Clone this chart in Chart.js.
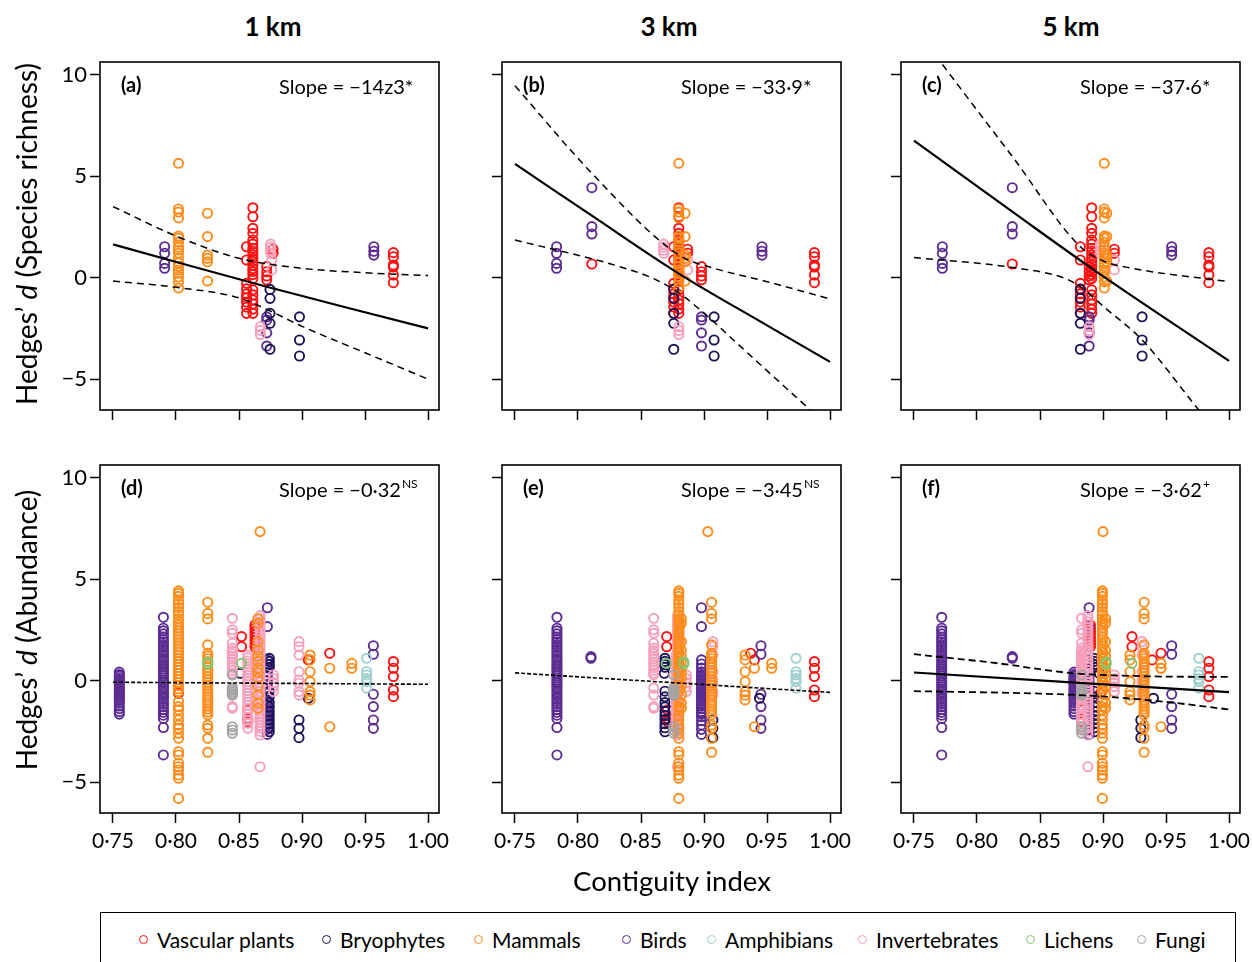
<!DOCTYPE html>
<html lang="en">
<head>
<meta charset="UTF-8">
<title>Hedges' d against contiguity index</title>
<script src="https://cdn.jsdelivr.net/npm/chart.js"></script>
<style>
    body { margin: 0; background: #fff; font-family: Lato, 'Open Sans', sans-serif; overflow: hidden; }
    #figure { position: relative; width: 1252px; height: 962px; overflow: hidden; background: #fff; }
    #figure canvas { position: absolute; }
    .col-title { position: absolute; top: 10px; width: 200px; margin-left: -100px; text-align: center;
                 font-weight: 700; font-size: 26px; color: #000; }
    .y-title { position: absolute; white-space: nowrap; font-size: 28px; color: #000;
               transform: translate(-50%, -50%) rotate(-90deg); }
    .x-title { position: absolute; left: 672px; top: 880px; transform: translate(-50%, -50%);
               font-size: 27.5px; color: #000; white-space: nowrap; }
    #legend { position: absolute; left: 100px; top: 912px; width: 1136px; height: 70px;
              border: 1.5px solid #000; box-sizing: border-box; }
    .leg-item { position: absolute; top: 14px; height: 24px; display: flex; align-items: center;
                font-size: 21px; color: #000; white-space: nowrap; }
    .leg-dot { width: 7px; height: 7px; border: 1.8px solid; border-radius: 50%; margin-right: 9px; }
</style>
</head>
<body>
<div id="figure"></div>
<script>
// ---- data ----
const taxa = ['Vascular plants', 'Bryophytes', 'Mammals', 'Birds', 'Amphibians', 'Invertebrates', 'Lichens', 'Fungi'];
const taxonColours = ['#ff1010', '#1b1458', '#ff8c1a', '#5c2d91', '#9fcfcf', '#f6a0bd', '#82c76e', '#a4a4a4'];
const distances = ['1 km', '3 km', '5 km'];
const xTicks = [0.75, 0.80, 0.85, 0.90, 0.95, 1.00];
const yTicks = [-5, 0, 5, 10];
const panelLabels = ['(a)', '(b)', '(c)', '(d)', '(e)', '(f)'];
const slopeTexts = ['Slope = \u221214z3*', 'Slope = \u221233\u00b79*', 'Slope = \u221237\u00b76*',
                    'Slope = \u22120\u00b732', 'Slope = \u22123\u00b745', 'Slope = \u22123\u00b762'];
const slopeMarks = ['', '', '', 'NS', 'NS', '+'];

// species richness: one entry per study, contiguity index at 1, 3 and 5 km (null = absent)
const richTaxon = [3, 3, 0, 2, 2, 0, 0, 0, 0, 5, 5, 5, 1, 3, 1, 3, 0];
const richX = [
    [0.791, 0.783, 0.7725], [null, 0.811, 0.828], [null, 0.811, 0.828], [0.802, 0.880, 0.901],
    [0.825, 0.885, 0.903], [0.861, 0.880, 0.891], [0.856, 0.876, 0.882], [0.877, 0.887, 0.909],
    [0.872, 0.898, 0.889], [0.875, 0.868, 0.898], [0.876, 0.887, 0.909], [0.867, 0.880, 0.889],
    [0.8746, 0.876, 0.882], [0.872, 0.898, 0.889], [0.898, 0.908, 0.931], [0.957, 0.946, 0.9545],
    [0.9725, 0.9876, 0.984]
];
const richY = [
    [1.52, 1.2, 0.7, 0.46],
    [4.43, 2.51, 2.15],
    [0.67],
    [5.63, 3.38, 3.23, 2.94, 2.05, 1.95, 1.75, 1.5, 1.36, 1.21, 0.97, 0.72, 0.55, 0.37, 0.23, 0.03, -0.21, -0.51],
    [3.17, 2.02, 1.11, 0.95, 0.78, -0.17],
    [3.44, 3.0, 2.43, 2.18, 1.85, 1.65, 1.45, 1.3, 1.12, 0.95, 0.8, 0.62, 0.45, 0.3, 0.15, -0.05, -0.6, -0.85, -1.1, -1.3, -1.55, -1.76],
    [1.52, 0.87, -0.28, -0.55, -0.8, -1.0, -1.2, -1.45, -1.76],
    [1.4, 1.2],
    [0.54, 0.29, 0.08, -0.11],
    [1.65, 1.5, 1.35, 1.2],
    [0.87, 0.38],
    [-2.42, -2.6, -2.8],
    [-0.58, -1.02, -1.76, -2.25, -3.53],
    [-1.93, -2.09, -2.72, -3.37],
    [-1.93, -3.07, -3.86],
    [1.52, 1.3, 1.11],
    [1.23, 1.03, 0.62, 0.52, 0.13, -0.25]
];

// abundance: one entry per study, contiguity index at 1, 3 and 5 km (null = absent)
const abunTaxon = [3, 3, 2, 0, 2, 6, 6, 5, 7, 1, 0, 0, 5, 2, 0, 5, 2, 3, 1, 5, 5, 1, 2, 0, 1, 0, 2, 2, 4, 3, 0, 3];
const abunX = [
    [0.755, 0.898, 0.877], [0.790, 0.7833, 0.772], [0.802, 0.880, 0.8995], [0.802, 0.878, 0.898],
    [0.8252, 0.906, 0.9326], [0.8252, 0.884, 0.9025], [0.852, 0.870, 0.923], [0.8447, 0.8601, 0.883],
    [0.8447, 0.876, 0.883], [0.851, 0.8685, 0.897], [0.852, 0.8704, 0.923], [0.857, 0.871, 0.883],
    [0.857, 0.878, 0.883], [0.865, 0.882, 0.902], [0.8627, 0.880, 0.890], [0.8667, 0.879, 0.888],
    [0.8667, 0.903, 0.900], [0.8725, 0.898, 0.889], [0.874, 0.869, 0.893], [0.8773, 0.886, 0.909],
    [0.8976, 0.907, 0.931], [0.8976, 0.907, 0.930], [0.9064, 0.9326, 0.9214], [0.905, 0.940, 0.939],
    [0.905, 0.944, 0.940], [0.922, 0.937, 0.946], [0.922, 0.940, 0.946], [0.9395, 0.9537, 0.946],
    [0.9513, 0.973, 0.976], [0.9566, 0.9452, 0.9545], [0.9725, 0.9876, 0.984], [null, 0.8103, 0.828]
];
const abunY = [
    [0.42, 0.3, 0.22, 0.12, 0.05, -0.03, -0.1, -0.18, -0.27, -0.35, -0.44, -0.52, -0.6, -0.7, -0.79, -0.88, -0.98, -1.1, -1.25, -1.38, -1.52, -1.65],
    [3.12, 2.58, 2.45, 2.3, 2.15, 2.02, 1.9, 1.78, 1.65, 1.52, 1.4, 1.28, 1.15, 1.03, 0.92, 0.8, 0.68, 0.57, 0.46, 0.35, 0.24, 0.13, 0.02, -0.09, -0.2, -0.31, -0.43, -0.55, -0.67, -0.79, -0.91, -1.03, -1.16, -1.29, -1.42, -1.56, -1.7, -1.86, -2.31, -3.66],
    [4.42, 4.3, 4.15, 3.95, 3.8, 3.6, 3.4, 3.25, 3.05, 2.9, 2.75, 2.6, 2.45, 2.3, 2.15, 2.0, 1.85, 1.7, 1.55, 1.4, 1.25, 1.1, 0.95, 0.8, 0.65, 0.5, 0.35, 0.2, 0.05, -0.1, -0.25, -0.4, -0.54, -1.03, -1.28, -1.44, -1.69, -1.94, -2.19, -2.35, -2.59, -2.84, -3.5, -3.66, -4.07, -4.24, -4.4, -4.65, -4.81, -5.8],
    [-0.62],
    [3.86, 3.31, 3.04, 1.76, 1.35, 1.22, 1.08, 0.93, 0.78, 0.64, 0.5, 0.36, 0.2, 0.06, -0.08, -0.22, -0.37, -0.52, -0.66, -0.8, -0.95, -1.1, -1.25, -1.4, -1.55, -1.69, -2.19, -2.35, -2.84, -3.53],
    [0.92, 0.82],
    [0.85],
    [3.07, 2.5, 2.33, 1.84, 1.6, 1.47, 1.33, 1.2, 1.06, 0.92, 0.78, 0.64, 0.5, 0.36, 0.28, -0.37, -0.71, -1.28, -1.36],
    [0.28, -0.37, -0.46, -0.55, -0.65, -0.71, -2.27, -2.43, -2.59],
    [0.36],
    [2.17, 1.67],
    [-1.44, -1.85, -2.02],
    [1.26, 1.12, 0.97, 0.83, 0.68, 0.53, 0.39, 0.24, 0.1, -0.05, -0.2, -0.34, -0.49, -0.63, -0.78, -0.93, -1.07, -1.22, -1.37, -1.51, -1.66, -1.81, -1.96, -2.1, -2.35],
    [3.05, 2.82, 1.92, 1.5, 1.2, 0.95, 0.62, 0.4, 0.12, -0.28, -0.7, -1.1, -1.36],
    [2.74, 2.58, 2.42, 2.27, 2.12, 1.97, 1.82, 1.67],
    [3.2, 3.05, 2.9, 2.76, 2.6, 2.46, 2.3, 2.16, 2.0, 1.86, 1.7, 1.56, 1.4, 1.26, 1.1, 0.96, 0.8, 0.66, 0.5, 0.36, 0.2, 0.06, -0.1, -0.24, -0.4, -0.54, -0.7, -0.84, -1.0, -1.14, -1.3, -1.44, -1.6, -1.74, -1.9, -2.04, -2.2, -2.34, -2.5, -2.68, -4.24],
    [7.34],
    [3.59, 2.66, 1.02, 0.82, 0.62, 0.42, 0.22, 0.02, -0.18, -0.38, -0.58, -0.78, -0.98, -1.18, -1.38, -1.58, -1.78, -1.98, -2.18, -2.4, -2.65],
    [1.1, 0.95, 0.8, 0.66, -0.52, -0.8, -1.08, -1.3, -1.52, -1.72, -1.92, -2.12, -2.32, -2.52],
    [0.28, 0.1, -0.1, -0.3, -0.54],
    [1.92, 1.67, 1.26, 0.44, 0.03, -0.13, -0.54, -0.71],
    [-1.94, -2.35, -2.81],
    [1.26, 1.02, 0.44, -0.05, -0.54, -0.71, -0.95],
    [1.02],
    [-0.87],
    [1.35],
    [0.61, -2.27],
    [0.85, 0.61],
    [1.1, 0.44, 0.28, 0.1, -0.05, -0.37],
    [1.72, 1.3, -0.67, -1.28, -1.94, -2.35],
    [0.94, 0.61, 0.2, -0.46, -0.79],
    [1.18, 1.1]
];

// fitted meta-regression lines and 95% confidence bands, panels (a)-(f)
const fitX = [[0.75, 0.872, 1.00], [0.75, 0.811, 0.88, 0.95, 1.00], [0.75, 0.828, 0.897, 1.00],
              [0.75, 1.00], [0.75, 1.00], [0.75, 1.00]];
const fitY = [[1.64, -0.45, -2.5], [5.6, 3.05, 0.2, -2.35, -4.15], [6.75, 3.25, 0.2, -4.1],
              [-0.08, -0.18], [0.38, -0.58], [0.4, -0.57]];
const upperX = [[0.75, 0.80, 0.85, 0.90, 0.95, 1.00], [0.75, 0.811, 0.88, 0.908, 0.95, 1.00],
                [0.75, 0.771, 0.828, 0.882, 0.902, 0.923, 1.00], null, null,
                [0.75, 0.817, 0.875, 0.93, 1.00]];
const upperY = [[3.5, 2.05, 0.95, 0.46, 0.24, 0.1], [9.45, 5.14, 1.11, 0.46, -0.2, -1.05],
                [12.4, 10.63, 5.97, 1.52, 0.78, 0.46, -0.2], null, null,
                [1.3, 0.85, 0.37, 0.22, 0.18]];
const lowerX = [[0.75, 0.80, 0.85, 0.875, 0.90, 0.95, 1.00], [0.75, 0.80, 0.83, 0.86, 0.88, 0.90, 0.93, 0.96, 1.00],
                [0.75, 0.828, 0.870, 0.882, 0.902, 0.931, 0.976, 1.00], null, null,
                [0.75, 0.80, 0.85, 0.90, 0.95, 1.00]];
const lowerY = [[-0.17, -0.48, -1.0, -1.65, -2.4, -3.7, -5.0], [1.85, 1.1, 0.6, -0.05, -0.75, -1.75, -3.45, -5.15, -7.4],
                [0.99, 0.5, -0.04, -0.45, -1.51, -3.07, -6.52, -8.3], null, null,
                [-0.52, -0.57, -0.64, -0.78, -1.05, -1.42]];

// ---- layout ----
const boxLeft = [100, 502, 901];
const boxTop = [62, 465];
const boxW = 339, boxH = 348;
const padL = 70, padT = 10, padR = 12, padB = 60;
const drawOrder = [6, 7, 4, 2, 5, 1, 3, 0]; // first listed ends up on top

Chart.defaults.font.family = 'Lato';
Chart.defaults.color = '#000';

const fig = document.getElementById('figure');

const fmtX = v => v.toFixed(2).replace('.', '\u00b7');
const fmtY = v => (v < 0 ? '\u2212' + Math.abs(v) : String(v));

function collect(taxon, col, studyTaxon, studyX, studyY) {
    const pts = [];
    studyTaxon.forEach((t, i) => {
        const x = studyX[i][col];
        if (t !== taxon || x === null) return;
        studyY[i].forEach(y => pts.push({ x: x, y: y }));
    });
    return pts;
}

function toPoints(xs, ys) {
    return xs.map((x, i) => ({ x: x, y: ys[i] }));
}

// frame, panel letter and slope text
const panelDecor = {
    id: 'panelDecor',
    afterDraw(chart, args, opts) {
        const { ctx, chartArea: a } = chart;
        ctx.save();
        ctx.strokeStyle = '#000';
        ctx.lineWidth = 1.6;
        ctx.strokeRect(a.left, a.top, a.width, a.height);
        ctx.fillStyle = '#000';
        ctx.textBaseline = 'middle';
        ctx.textAlign = 'left';
        ctx.font = 'bold 20px Lato';
        ctx.fillText(opts.label, a.left + 21, a.top + 24);
        ctx.font = '20px Lato';
        const x0 = a.left + 179;
        ctx.fillText(opts.slope, x0, a.top + 26);
        if (opts.mark) {
            const w = ctx.measureText(opts.slope).width;
            ctx.font = '12px Lato';
            ctx.fillText(opts.mark, x0 + w + 1, a.top + 19);
        }
        ctx.restore();
    }
};

for (let p = 0; p < 6; p++) {
    const row = Math.floor(p / 3), col = p % 3;
    const canvas = document.createElement('canvas');
    canvas.width = padL + boxW + padR;
    canvas.height = padT + boxH + padB;
    canvas.style.left = (boxLeft[col] - padL) + 'px';
    canvas.style.top = (boxTop[row] - padT) + 'px';
    fig.appendChild(canvas);

    const datasets = [];
    const dotted = row === 1 && col < 2;
    datasets.push({
        type: 'line', data: toPoints(fitX[p], fitY[p]), borderColor: '#000',
        borderWidth: dotted ? 1.6 : 2.2, borderDash: dotted ? [4, 2] : [],
        pointRadius: 0, tension: 0.35, fill: false
    });
    if (upperX[p]) {
        [[upperX[p], upperY[p]], [lowerX[p], lowerY[p]]].forEach(([xs, ys]) => {
            datasets.push({
                type: 'line', data: toPoints(xs, ys), borderColor: '#000',
                borderWidth: row === 1 ? 1.8 : 1.5, borderDash: row === 1 ? [7, 4] : [7, 5],
                pointRadius: 0, cubicInterpolationMode: 'monotone', fill: false
            });
        });
    }
    drawOrder.forEach(t => {
        const pts = row === 0 ? collect(t, col, richTaxon, richX, richY)
                              : collect(t, col, abunTaxon, abunX, abunY);
        if (!pts.length) return;
        datasets.push({
            type: 'scatter', label: taxa[t], data: pts,
            pointStyle: 'circle', pointRadius: 4.6, pointBorderWidth: 1.9,
            borderColor: taxonColours[t], backgroundColor: 'rgba(0,0,0,0)'
        });
    });

    new Chart(canvas, {
        type: 'scatter',
        data: { datasets: datasets },
        options: {
            responsive: false,
            animation: false,
            events: [],
            layout: { autoPadding: false, padding: { left: 0, top: padT, right: padR, bottom: 0 } },
            plugins: {
                legend: { display: false },
                tooltip: { enabled: false },
                panelDecor: { label: panelLabels[p], slope: slopeTexts[p], mark: slopeMarks[p] }
            },
            scales: {
                x: {
                    type: 'linear', bounds: 'data', min: 0.7397, max: 1.0087,
                    afterBuildTicks: s => { s.ticks = xTicks.map(v => ({ value: v })); },
                    afterFit: s => { s.height = padB; s.paddingLeft = 0; s.paddingRight = 0; },
                    border: { display: false },
                    grid: { drawOnChartArea: false, drawTicks: true, tickLength: 10,
                            tickColor: '#000', tickWidth: 1.5, color: '#000' },
                    ticks: { display: row === 1, padding: 6, autoSkip: false, maxRotation: 0,
                             font: { size: 21 }, color: '#000', callback: fmtX }
                },
                y: {
                    type: 'linear', bounds: 'data', min: -6.52, max: 10.62,
                    afterBuildTicks: s => { s.ticks = yTicks.map(v => ({ value: v })); },
                    afterFit: s => { s.width = padL; s.paddingTop = 0; s.paddingBottom = 0; },
                    border: { display: false },
                    grid: { drawOnChartArea: false, drawTicks: true, tickLength: 10,
                            tickColor: '#000', tickWidth: 1.5, color: '#000' },
                    ticks: { display: col === 0, padding: 3, font: { size: 22 }, color: '#000',
                             callback: fmtY }
                }
            }
        },
        plugins: [panelDecor]
    });
}

// column headings, axis titles and legend
const colCentre = [273, 669, 1071];
distances.forEach((d, i) => {
    const el = document.createElement('div');
    el.className = 'col-title';
    el.style.left = colCentre[i] + 'px';
    el.textContent = d;
    fig.appendChild(el);
});

[['Species richness', 234], ['Abundance', 630]].forEach(([what, y]) => {
    const el = document.createElement('div');
    el.className = 'y-title';
    el.style.left = '26px';
    el.style.top = y + 'px';
    el.innerHTML = 'Hedges\u2019 <i>d</i> (' + what + ')';
    fig.appendChild(el);
});

const xt = document.createElement('div');
xt.className = 'x-title';
xt.textContent = 'Contiguity index';
fig.appendChild(xt);

const legend = document.createElement('div');
legend.id = 'legend';
const legendLeft = [38, 221, 373, 521, 606, 757, 925, 1036];
taxa.forEach((name, i) => {
    const item = document.createElement('div');
    item.className = 'leg-item';
    item.style.left = legendLeft[i] + 'px';
    const dot = document.createElement('span');
    dot.className = 'leg-dot';
    dot.style.borderColor = taxonColours[i];
    item.appendChild(dot);
    item.appendChild(document.createTextNode(name));
    legend.appendChild(item);
});
fig.appendChild(legend);
</script>
</body>
</html>
